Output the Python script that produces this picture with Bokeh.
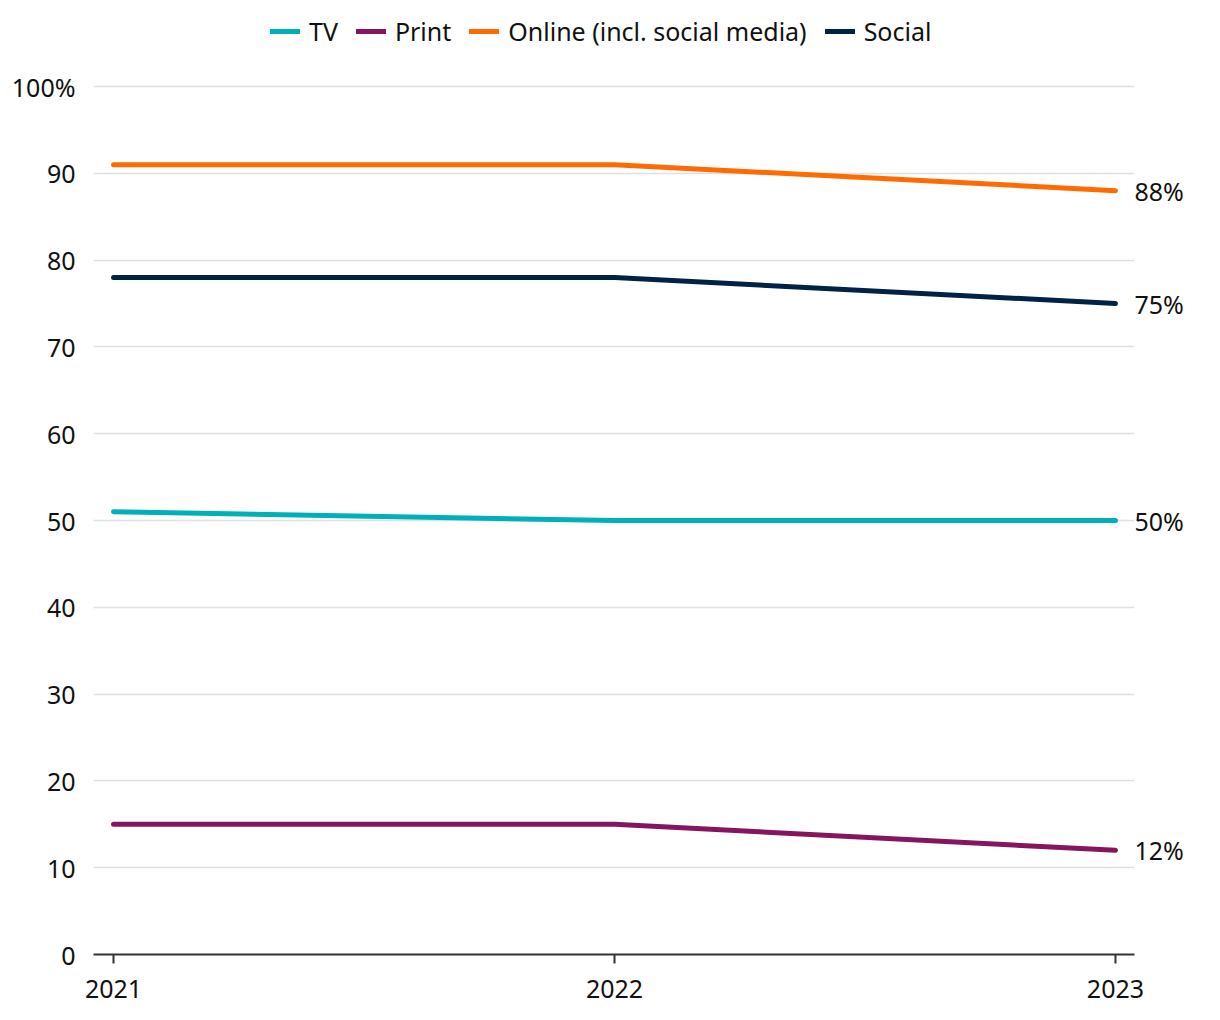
from bokeh.plotting import figure
from bokeh.models import Legend, LegendItem, FixedTicker, LinearAxis
from bokeh.embed import file_html
from bokeh.resources import INLINE

years = [2021, 2022, 2023]
series_names = ["TV", "Print", "Online (incl. social media)", "Social"]
tv = [51, 50, 50]
print_ = [15, 15, 12]
online = [91, 91, 88]
social = [78, 78, 75]
colors = ["#00b0b9", "#85155f", "#ff6b00", "#002244"]
y_ticks = [0, 10, 20, 30, 40, 50, 60, 70, 80, 90, 100]

FONT = "Noto Sans"
FS = "25px"

p = figure(frame_width=1041, frame_height=954, output_backend="svg", toolbar_location=None,
           x_range=(2020.96, 2023.038), y_range=(0, 109.91),
           min_border_left=93, min_border_right=86, min_border_top=0, min_border_bottom=66)
p.outline_line_color = None
p.background_fill_color = "white"
p.border_fill_color = "white"

all_series = [tv, print_, online, social]
renderers = []
for name, vals, c in zip(series_names, all_series, colors):
    r = p.line(years, vals, line_color=c, line_width=5, line_cap="round", line_join="round")
    renderers.append(r)

# axes
p.xaxis.ticker = FixedTicker(ticks=years)
p.xaxis.major_label_text_font = FONT
p.xaxis.major_label_text_font_size = FS
p.xaxis.major_label_text_color = "#111111"
p.xaxis.axis_line_color = "#333333"
p.xaxis.axis_line_width = 2
p.xaxis.major_tick_line_color = "#333333"
p.xaxis.major_tick_line_width = 2
p.xaxis.major_tick_in = 0
p.xaxis.major_tick_out = 9
p.xaxis.minor_tick_line_color = None
p.xaxis.major_label_standoff = 16

p.yaxis.ticker = FixedTicker(ticks=y_ticks)
p.yaxis.major_label_overrides = {100: "100%"}
p.yaxis.major_label_text_font = FONT
p.yaxis.major_label_text_font_size = FS
p.yaxis.major_label_text_color = "#111111"
p.yaxis.axis_line_color = None
p.yaxis.major_tick_line_color = None
p.yaxis.minor_tick_line_color = None
p.yaxis.major_label_standoff = 12

# end-value labels as a right axis
end_vals = [s[-1] for s in all_series]
raxis = LinearAxis(ticker=FixedTicker(ticks=end_vals),
                   major_label_overrides={v: f"{v}%" for v in end_vals},
                   axis_line_color=None, major_tick_line_color=None, minor_tick_line_color=None,
                   major_tick_in=0, major_tick_out=0,
                   major_label_text_font=FONT, major_label_text_font_size=FS,
                   major_label_text_color="#111111", major_label_standoff=0,
                   major_label_text_baseline="top")
p.add_layout(raxis, "right")

p.xgrid.grid_line_color = None
p.ygrid.grid_line_color = "#e0e0e0"
p.ygrid.grid_line_width = 1.5

legend = Legend(items=[LegendItem(label=n, renderers=[r]) for n, r in zip(series_names, renderers)],
                orientation="horizontal", location=(177, 906),
                label_text_font=FONT, label_text_font_size=FS, label_text_color="#111111",
                glyph_width=30, glyph_height=20, spacing=18, label_standoff=9,
                border_line_color=None, background_fill_alpha=0, padding=0, margin=0)
p.add_layout(legend, "center")

open("out.html", "w").write(file_html(p, INLINE))
